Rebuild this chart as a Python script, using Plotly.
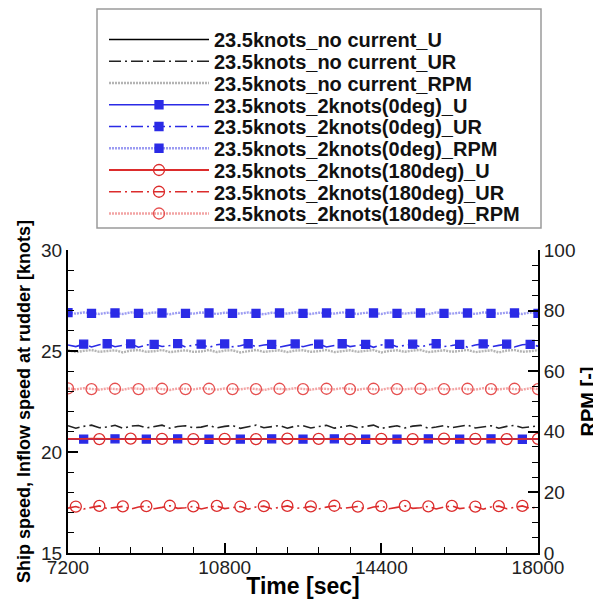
import plotly.graph_objects as go

# time axis (sec), one sample every 180 s
time_s = list(range(7200, 18001, 180))

# ship speed / inflow speed [knots] (left axis), RPM (right axis)
nc_U = [20.65, 20.64, 20.66, 20.65, 20.63, 20.64, 20.66, 20.65, 20.64, 20.65,
        20.66, 20.64, 20.63, 20.65, 20.66, 20.65, 20.64, 20.65, 20.66, 20.64,
        20.63, 20.65, 20.66, 20.65, 20.64, 20.65, 20.66, 20.64, 20.63, 20.65,
        20.66, 20.65, 20.64, 20.65, 20.66, 20.64, 20.63, 20.65, 20.66, 20.65,
        20.64, 20.65, 20.66, 20.64, 20.63, 20.65, 20.66, 20.65, 20.64, 20.65,
        20.66, 20.64, 20.63, 20.65, 20.66, 20.65, 20.64, 20.65, 20.66, 20.64,
        20.65]
nc_UR = [21.30, 21.18, 21.27, 21.33, 21.20, 21.24, 21.32, 21.17, 21.28, 21.31,
         21.19, 21.25, 21.33, 21.18, 21.26, 21.30, 21.20, 21.23, 21.32, 21.19,
         21.27, 21.31, 21.17, 21.25, 21.33, 21.20, 21.24, 21.31, 21.18, 21.28,
         21.30, 21.19, 21.26, 21.32, 21.18, 21.24, 21.31, 21.20, 21.27, 21.33,
         21.17, 21.25, 21.30, 21.19, 21.28, 21.32, 21.18, 21.24, 21.31, 21.20,
         21.26, 21.33, 21.19, 21.25, 21.30, 21.18, 21.27, 21.32, 21.20, 21.24,
         21.30]
nc_RPM = [66.9, 66.3, 66.7, 67.0, 66.4, 66.6, 66.9, 66.2, 66.8, 67.0,
          66.4, 66.6, 67.0, 66.3, 66.7, 66.9, 66.4, 66.5, 67.0, 66.3,
          66.8, 66.9, 66.2, 66.6, 67.0, 66.4, 66.7, 66.9, 66.3, 66.8,
          66.9, 66.4, 66.6, 67.0, 66.3, 66.7, 66.9, 66.4, 66.6, 67.0,
          66.2, 66.7, 66.9, 66.4, 66.8, 67.0, 66.3, 66.6, 66.9, 66.4,
          66.7, 67.0, 66.3, 66.6, 66.9, 66.2, 66.8, 67.0, 66.4, 66.6,
          66.9]
c0_U = [20.64, 20.65, 20.64, 20.63, 20.65, 20.64, 20.65, 20.64, 20.63, 20.65,
        20.64, 20.65, 20.64, 20.63, 20.65, 20.64, 20.65, 20.64, 20.63, 20.65,
        20.64, 20.65, 20.64, 20.63, 20.65, 20.64, 20.65, 20.64, 20.63, 20.65,
        20.64, 20.65, 20.64, 20.63, 20.65, 20.64, 20.65, 20.64, 20.63, 20.65,
        20.64, 20.65, 20.64, 20.63, 20.65, 20.64, 20.65, 20.64, 20.63, 20.65,
        20.64, 20.65, 20.64, 20.63, 20.65, 20.64, 20.65, 20.64, 20.63, 20.65,
        20.64]
c0_UR = [25.30, 25.22, 25.34, 25.20, 25.31, 25.36, 25.21, 25.28, 25.35, 25.19,
         25.30, 25.33, 25.22, 25.27, 25.37, 25.20, 25.29, 25.34, 25.18, 25.31,
         25.35, 25.21, 25.26, 25.36, 25.22, 25.30, 25.33, 25.19, 25.28, 25.35,
         25.21, 25.31, 25.34, 25.20, 25.27, 25.36, 25.22, 25.29, 25.33, 25.18,
         25.30, 25.35, 25.21, 25.28, 25.34, 25.20, 25.31, 25.36, 25.22, 25.27,
         25.33, 25.19, 25.30, 25.35, 25.21, 25.28, 25.34, 25.20, 25.31, 25.33,
         25.24]
c0_RPM = [79.3, 79.0, 79.4, 79.1, 78.9, 79.3, 79.2, 78.9, 79.4, 79.1,
          79.0, 79.4, 79.2, 78.8, 79.3, 79.1, 79.0, 79.4, 79.2, 78.9,
          79.3, 79.1, 79.0, 79.4, 79.1, 78.8, 79.3, 79.2, 79.0, 79.4,
          79.1, 78.9, 79.3, 79.2, 79.0, 79.4, 79.1, 78.9, 79.3, 79.2,
          78.9, 79.4, 79.1, 79.0, 79.3, 79.2, 78.8, 79.4, 79.1, 79.0,
          79.3, 79.2, 78.9, 79.4, 79.1, 79.0, 79.3, 79.2, 78.9, 79.4,
          79.1]
c180_U = [20.65, 20.64, 20.65, 20.66, 20.64, 20.65, 20.64, 20.65, 20.66, 20.64,
          20.65, 20.64, 20.65, 20.66, 20.64, 20.65, 20.64, 20.65, 20.66, 20.64,
          20.65, 20.64, 20.65, 20.66, 20.64, 20.65, 20.64, 20.65, 20.66, 20.64,
          20.65, 20.64, 20.65, 20.66, 20.64, 20.65, 20.64, 20.65, 20.66, 20.64,
          20.65, 20.64, 20.65, 20.66, 20.64, 20.65, 20.64, 20.65, 20.66, 20.64,
          20.65, 20.64, 20.65, 20.66, 20.64, 20.65, 20.64, 20.65, 20.66, 20.64,
          20.65]
c180_UR = [17.22, 17.30, 17.18, 17.27, 17.33, 17.20, 17.25, 17.31, 17.17, 17.28,
           17.32, 17.19, 17.26, 17.34, 17.21, 17.24, 17.31, 17.18, 17.27, 17.33,
           17.20, 17.25, 17.30, 17.17, 17.28, 17.32, 17.19, 17.26, 17.33, 17.21,
           17.24, 17.31, 17.18, 17.27, 17.34, 17.20, 17.25, 17.30, 17.17, 17.28,
           17.32, 17.19, 17.26, 17.33, 17.21, 17.24, 17.31, 17.18, 17.27, 17.33,
           17.20, 17.25, 17.30, 17.17, 17.28, 17.32, 17.19, 17.26, 17.33, 17.21,
           17.29]
c180_RPM = [54.3, 54.0, 54.4, 54.1, 53.9, 54.3, 54.2, 53.9, 54.4, 54.1,
            54.0, 54.4, 54.2, 53.8, 54.3, 54.1, 54.0, 54.4, 54.2, 53.9,
            54.3, 54.1, 54.0, 54.4, 54.1, 53.8, 54.3, 54.2, 54.0, 54.4,
            54.1, 53.9, 54.3, 54.2, 54.0, 54.4, 54.1, 53.9, 54.3, 54.2,
            53.9, 54.4, 54.1, 54.0, 54.3, 54.2, 53.8, 54.4, 54.1, 54.0,
            54.3, 54.2, 53.9, 54.4, 54.1, 54.0, 54.3, 54.2, 53.9, 54.4,
            54.1]

legend_names = [
    "23.5knots_no current_U",
    "23.5knots_no current_UR",
    "23.5knots_no current_RPM",
    "23.5knots_2knots(0deg)_U",
    "23.5knots_2knots(0deg)_UR",
    "23.5knots_2knots(0deg)_RPM",
    "23.5knots_2knots(180deg)_U",
    "23.5knots_2knots(180deg)_UR",
    "23.5knots_2knots(180deg)_RPM",
]
series_values = [nc_U, nc_UR, nc_RPM, c0_U, c0_UR, c0_RPM, c180_U, c180_UR, c180_RPM]

FONT = "Liberation Sans, Arial, sans-serif"
BLUE = "#2b2be6"
RED = "#dc2c2c"
DASHDOT = "12px,4px,2px,4px"
HATCH = "2px,1px"

# page has an 8px body margin, so the figure is laid out in its own pixel frame
W, H = 593, 591
PL, PR, PT, PB = 60, 530, 242, 545  # plot area edges in figure pixels
PW, PH = PR - PL, PB - PT


def px_x(x):
    return (x - PL) / PW


def px_y(y):
    return (PB - y) / PH


# per series: axis, line colour, dash, width, marker symbol, marker colour, marker start, marker step
styles = [
    ("y",  "black",   "solid", 1.6, None, None, 0, 0),
    ("y",  "#222222", DASHDOT, 1.6, None, None, 0, 0),
    ("y2", "#b4b4b4", HATCH,   2.4, None, None, 0, 0),
    ("y",  BLUE,      "solid", 1.6, "square", BLUE, 2, 4),
    ("y",  BLUE,      DASHDOT, 1.6, "square", BLUE, 2, 3),
    ("y2", "#9c9cf2", HATCH,   2.4, "square", BLUE, 0, 3),
    ("y",  RED,       "solid", 1.8, "circle-open", RED, 4, 4),
    ("y",  RED,       DASHDOT, 1.6, "circle-open", RED, 1, 3),
    ("y2", "#f2a4a4", HATCH,   2.4, "circle-open", "#e65050", 0, 3),
]

fig = go.Figure()

for vals, (ax, lc, dash, lw, sym, mc, start, step) in zip(series_values, styles):
    fig.add_trace(go.Scatter(x=time_s, y=vals, yaxis=ax, mode="lines",
                             line=dict(color=lc, dash=dash, width=lw),
                             showlegend=False, hoverinfo="skip"))
    if sym:
        msize = 8 if sym == "square" else 11
        fig.add_trace(go.Scatter(x=time_s[start::step], y=vals[start::step], yaxis=ax,
                                 mode="markers",
                                 marker=dict(symbol=sym, color=mc, size=msize,
                                             line=dict(color=mc, width=1.3)),
                                 showlegend=False, hoverinfo="skip"))

# legend rows (one legend per row so the spacing can follow the original)
layout_legends = {}
for i, (name, (ax, lc, dash, lw, sym, mc, start, step)) in enumerate(zip(legend_names, styles)):
    key = "legend" if i == 0 else "legend%d" % (i + 1)
    marker = dict(symbol=sym or "circle", color=mc or lc,
                  size=8 if sym == "square" else 11, line=dict(color=mc or lc, width=1.3))
    fig.add_trace(go.Scatter(x=[None], y=[None], name=name, legend=key,
                             mode="lines+markers" if sym else "lines",
                             line=dict(color=lc, dash=dash, width=lw), marker=marker))
    layout_legends[key] = dict(
        x=px_x(96), xanchor="left", y=px_y(31.5 + 21.75 * i), yanchor="middle",
        bgcolor="rgba(0,0,0,0)", borderwidth=0, itemwidth=100,
        font=dict(family=FONT, size=20, color="#111111", weight="bold"),
        itemclick=False, itemdoubleclick=False,
    )

tickfont = dict(family=FONT, size=19, color="#222222")
axis_common = dict(showline=True, linecolor="black", linewidth=2, showgrid=False,
                   zeroline=False, ticks="inside", ticklen=10, tickwidth=2,
                   tickcolor="black", tickfont=tickfont, automargin=False)

fig.update_layout(
    width=W, height=H,
    margin=dict(l=PL, r=W - PR, t=PT, b=H - PB, autoexpand=False),
    paper_bgcolor="white", plot_bgcolor="white",
    xaxis=dict(range=[7200, 18000], tick0=7200, dtick=3600, tickformat="d",
               ticklabelstandoff=-4,
               minor=dict(dtick=720, ticks="inside", ticklen=6, tickwidth=1, tickcolor="black"),
               title=dict(text="Time [sec]", standoff=0,
                          font=dict(family=FONT, size=23, color="black", weight="bold")),
               **axis_common),
    yaxis=dict(range=[15, 30], dtick=5,
               minor=dict(dtick=1, ticks="inside", ticklen=6, tickwidth=1, tickcolor="black"),
               title=dict(text="Ship speed, Inflow speed at rudder [knots]", standoff=6,
                          font=dict(family=FONT, size=18, color="black", weight="bold")),
               **axis_common),
    yaxis2=dict(range=[0, 100], dtick=20, overlaying="y", side="right",
                minor=dict(dtick=5, ticks="inside", ticklen=6, tickwidth=1, tickcolor="black"),
                title=dict(text="RPM [-]", standoff=6,
                           font=dict(family=FONT, size=20, color="black", weight="bold")),
                **axis_common),
    shapes=[
        dict(type="rect", xref="paper", yref="paper",
             x0=px_x(89), x1=px_x(533), y0=px_y(220), y1=px_y(1),
             line=dict(color="#9a9a9a", width=1.5), layer="below"),
    ],
    **layout_legends,
)

fig.write_html("out.html")
